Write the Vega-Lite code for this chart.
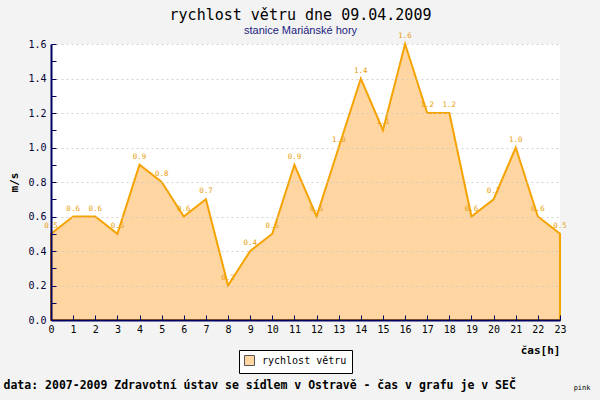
{
  "$schema": "https://vega.github.io/schema/vega-lite/v6.json",
  "width": 509,
  "height": 276,
  "autosize": {"type": "none"},
  "padding": {"left": 51, "top": 44, "right": 40, "bottom": 80},
  "background": "#f3f3f3",
  "title": {
    "text": "rychlost větru dne 09.04.2009",
    "subtitle": "stanice Mariánské hory",
    "anchor": "middle",
    "dx": -5,
    "offset": -4,
    "font": "DejaVu Sans Mono",
    "fontSize": 15,
    "fontWeight": "normal",
    "color": "#000000",
    "subtitleFont": "Liberation Sans",
    "subtitleFontSize": 11,
    "subtitleColor": "#1a1a80",
    "subtitlePadding": 2
  },
  "data": {
    "values": [
      {"hour": 0, "speed": 0.5, "series": "rychlost větru"},
      {"hour": 1, "speed": 0.6, "series": "rychlost větru"},
      {"hour": 2, "speed": 0.6, "series": "rychlost větru"},
      {"hour": 3, "speed": 0.5, "series": "rychlost větru"},
      {"hour": 4, "speed": 0.9, "series": "rychlost větru"},
      {"hour": 5, "speed": 0.8, "series": "rychlost větru"},
      {"hour": 6, "speed": 0.6, "series": "rychlost větru"},
      {"hour": 7, "speed": 0.7, "series": "rychlost větru"},
      {"hour": 8, "speed": 0.2, "series": "rychlost větru"},
      {"hour": 9, "speed": 0.4, "series": "rychlost větru"},
      {"hour": 10, "speed": 0.5, "series": "rychlost větru"},
      {"hour": 11, "speed": 0.9, "series": "rychlost větru"},
      {"hour": 12, "speed": 0.6, "series": "rychlost větru"},
      {"hour": 13, "speed": 1.0, "series": "rychlost větru"},
      {"hour": 14, "speed": 1.4, "series": "rychlost větru"},
      {"hour": 15, "speed": 1.1, "series": "rychlost větru"},
      {"hour": 16, "speed": 1.6, "series": "rychlost větru"},
      {"hour": 17, "speed": 1.2, "series": "rychlost větru"},
      {"hour": 18, "speed": 1.2, "series": "rychlost větru"},
      {"hour": 19, "speed": 0.6, "series": "rychlost větru"},
      {"hour": 20, "speed": 0.7, "series": "rychlost větru"},
      {"hour": 21, "speed": 1.0, "series": "rychlost větru"},
      {"hour": 22, "speed": 0.6, "series": "rychlost větru"},
      {"hour": 23, "speed": 0.5, "series": "rychlost větru"}
    ]
  },
  "resolve": {"axis": {"x": "independent", "y": "independent"}},
  "layer": [
    {
      "mark": {"type": "area", "opacity": 1, "stroke": "#f5a300", "strokeWidth": 2, "strokeJoin": "miter"},
      "encoding": {
        "x": {
          "field": "hour",
          "type": "quantitative",
          "scale": {"domain": [0, 23], "nice": false, "zero": false},
          "axis": {
            "zindex": 1,
            "values": [0,1,2,3,4,5,6,7,8,9,10,11,12,13,14,15,16,17,18,19,20,21,22,23],
            "format": "d",
            "grid": false,
            "domainColor": "#000060",
            "domainWidth": 2,
            "tickColor": "#000060",
            "tickSize": -5,
            "labelPadding": 9,
            "labelFont": "DejaVu Sans Mono",
            "labelFontSize": 10,
            "labelColor": "#000000",
            "labelFlush": false,
            "labelOverlap": false,
            "title": "čas[h]",
            "titleFont": "DejaVu Sans Mono",
            "titleFontSize": 11,
            "titleFontWeight": "bold",
            "titleColor": "#000000",
            "titleAnchor": "end",
            "titleAlign": "right",
            "titlePadding": 10
          }
        },
        "y": {
          "field": "speed",
          "type": "quantitative",
          "scale": {"domain": [0, 1.6], "nice": false},
          "axis": {
            "zindex": 1,
            "values": [0,0.1,0.2,0.3,0.4,0.5,0.6,0.7,0.8,0.9,1.0,1.1,1.2,1.3,1.4,1.5,1.6],
            "format": ".1f",
            "labelExpr": "round(datum.value*10) % 2 == 0 ? datum.label : ''",
            "grid": true,
            "gridColor": "#c8c8c8",
            "gridDash": [2, 3],
            "gridOpacity": {"condition": {"test": "round(datum.value*10) % 2 == 0 && datum.value > 0", "value": 0.8}, "value": 0},
            "domainColor": "#000060",
            "domainWidth": 2,
            "tickColor": "#000060",
            "tickSize": -5,
            "labelPadding": 10,
            "labelFont": "DejaVu Sans Mono",
            "labelFontSize": 10,
            "labelColor": "#000033",
            "title": "m/s",
            "titleFont": "DejaVu Sans Mono",
            "titleFontSize": 11,
            "titleFontWeight": "bold",
            "titleColor": "#000000",
            "titlePadding": 8
          }
        },
        "color": {
          "field": "series",
          "type": "nominal",
          "scale": {"range": ["#ffd5a2"]},
          "legend": {
            "title": null,
            "orient": "none",
            "legendX": 188,
            "legendY": 306,
            "padding": 5,
            "fillColor": "#ffffff",
            "strokeColor": "#000000",
            "symbolType": "square",
            "symbolSize": 100,
            "symbolStrokeColor": "#555555",
            "symbolStrokeWidth": 1,
            "symbolOpacity": 1,
            "labelFont": "DejaVu Sans Mono",
            "labelFontSize": 10,
            "labelColor": "#000000",
            "labelOffset": 7
          }
        }
      }
    },
    {
      "mark": {
        "type": "text",
        "dy": -8,
        "font": "DejaVu Sans Mono",
        "fontSize": 7.5,
        "color": "#e8a010"
      },
      "encoding": {
        "x": {
          "field": "hour",
          "type": "quantitative",
          "axis": {
            "orient": "bottom",
            "domain": false,
            "ticks": false,
            "labels": false,
            "grid": false,
            "title": "data: 2007-2009 Zdravotní ústav se sídlem v Ostravě - čas v grafu je v SEČ",
            "titleFont": "DejaVu Sans Mono",
            "titleFontSize": 11.5,
            "titleFontWeight": "bold",
            "titleColor": "#000000",
            "titleAnchor": "start",
            "titleAlign": "left",
            "titleBaseline": "alphabetic",
            "titleX": -48,
            "titleY": 68
          }
        },
        "y": {
          "field": "speed",
          "type": "quantitative",
          "axis": {
            "orient": "right",
            "domain": false,
            "ticks": false,
            "labels": false,
            "grid": false,
            "title": "pink",
            "titleAngle": 0,
            "titleFont": "DejaVu Sans Mono",
            "titleFontSize": 7,
            "titleFontWeight": "normal",
            "titleColor": "#000000",
            "titleAlign": "right",
            "titleBaseline": "alphabetic",
            "titleX": 30,
            "titleY": 345
          }
        },
        "text": {"field": "speed", "type": "quantitative", "format": ".1f"}
      }
    }
  ],
  "config": {
    "view": {"fill": "#ffffff", "stroke": null}
  }
}
